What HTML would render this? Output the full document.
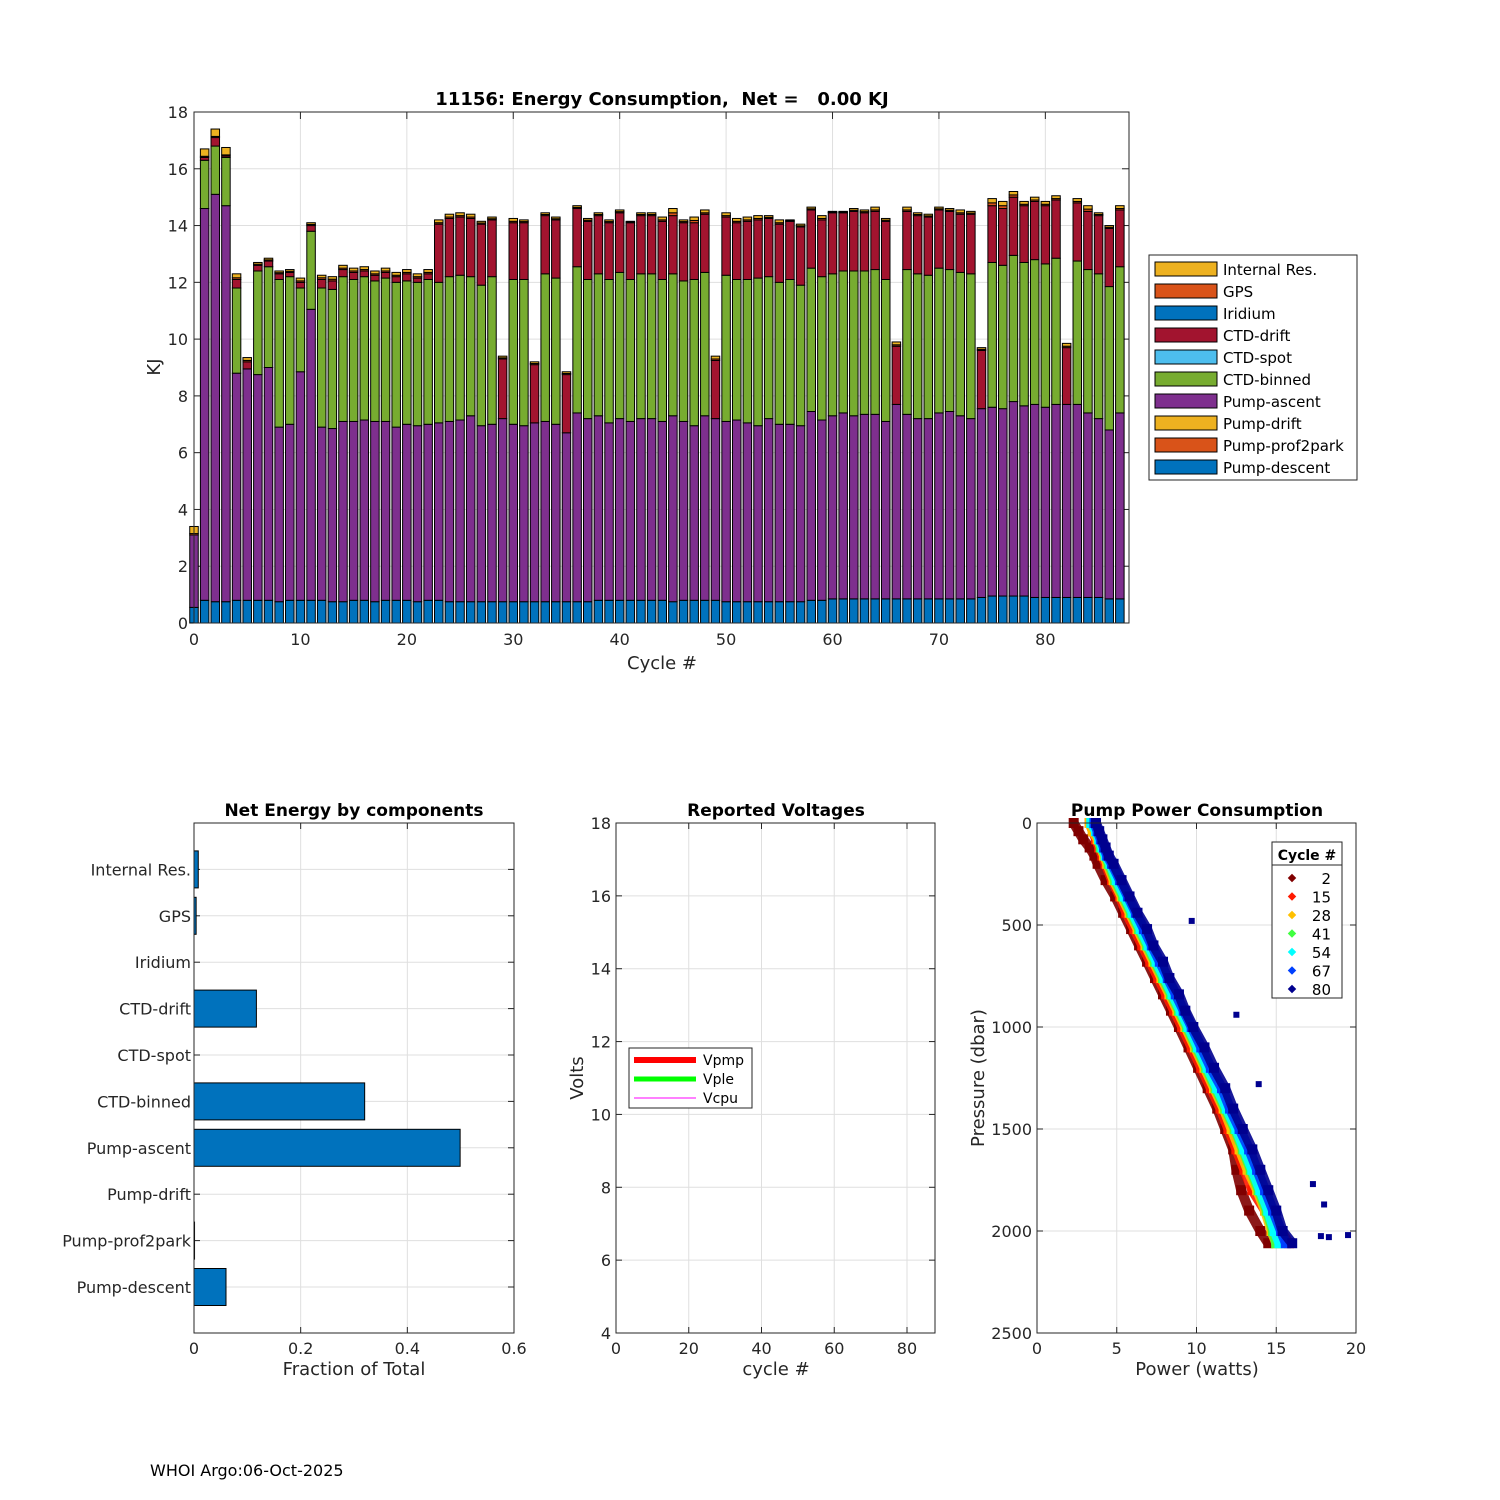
<!DOCTYPE html>
<html><head><meta charset="utf-8"><style>
body{margin:0;background:#fff;}
svg{display:block;font-family:"DejaVu Sans","Liberation Sans",sans-serif;}
text{white-space:pre;}
</style></head><body>
<svg id="s" width="1500" height="1500" viewBox="0 0 1500 1500"></svg>
<script>
// ---------- Top chart data (KJ per cycle) ----------
const cycles=[0,1,2,3,4,5,6,7,8,9,10,11,12,13,14,15,16,17,18,19,20,21,22,23,24,25,26,27,28,29,30,31,32,33,34,35,36,37,38,39,40,41,42,43,44,45,46,47,48,49,50,51,52,53,54,55,56,57,58,59,60,61,62,63,64,65,66,67,68,69,70,71,72,73,74,75,76,77,78,79,80,81,82,83,84,85,86,87];
const pumpDescent=[.55,.8,.75,.75,.8,.8,.8,.8,.75,.8,.8,.8,.8,.75,.75,.8,.8,.75,.8,.8,.8,.75,.8,.8,.75,.75,.75,.75,.75,.75,.75,.75,.75,.75,.75,.75,.75,.75,.8,.8,.8,.8,.8,.8,.8,.75,.8,.8,.8,.8,.75,.75,.75,.75,.75,.75,.75,.75,.8,.8,.85,.85,.85,.85,.85,.85,.85,.85,.85,.85,.85,.85,.85,.85,.9,.95,.95,.95,.95,.9,.9,.9,.9,.9,.9,.9,.85,.85];
const pumpAscent=[2.55,13.8,14.35,13.95,8.0,8.15,7.95,8.2,6.15,6.2,8.05,10.25,6.1,6.1,6.35,6.3,6.35,6.35,6.3,6.1,6.2,6.2,6.2,6.25,6.35,6.4,6.55,6.2,6.25,6.45,6.25,6.2,6.3,6.35,6.25,5.95,6.65,6.45,6.5,6.25,6.4,6.3,6.4,6.4,6.3,6.55,6.3,6.15,6.5,6.4,6.35,6.4,6.3,6.2,6.45,6.25,6.25,6.2,6.65,6.35,6.45,6.55,6.45,6.5,6.5,6.25,6.85,6.5,6.35,6.35,6.55,6.6,6.45,6.35,6.65,6.65,6.6,6.85,6.7,6.8,6.7,6.8,6.8,6.8,6.5,6.3,5.95,6.55];
const ctdBinned=[0,1.7,1.7,1.7,3.0,0,3.65,3.55,5.2,5.2,2.95,2.75,4.9,4.9,5.1,5.0,5.05,4.95,5.05,5.1,5.05,5.05,5.1,4.95,5.1,5.1,4.9,4.95,5.2,0,5.1,5.15,0,5.2,5.15,0,5.15,4.9,5.0,5.05,5.15,5.0,5.1,5.1,5.0,5.0,4.95,5.15,5.05,0,5.15,4.95,5.05,5.2,5.0,5.0,5.1,4.95,5.05,5.05,5.0,5.0,5.1,5.05,5.1,5.0,0,5.1,5.1,5.05,5.1,5.0,5.05,5.1,0,5.1,5.05,5.15,5.05,5.1,5.05,5.15,0,5.05,5.05,5.1,5.05,5.15];
const ctdDrift=[0,.1,.3,.05,.3,.25,.2,.2,.2,.15,.2,.2,.3,.3,.25,.25,.2,.2,.2,.2,.25,.15,.2,2.05,2.05,2.05,2.05,2.15,2.0,2.1,2.0,2.0,2.05,2.05,2.05,2.05,2.05,2.05,2.05,2.0,2.1,2.0,2.05,2.05,2.05,2.05,2.05,2.0,2.05,2.05,2.05,2.0,2.05,2.05,2.05,2.05,2.05,2.05,2.05,2.0,2.15,2.05,2.1,2.05,2.05,2.05,2.05,2.05,2.05,2.05,2.05,2.05,2.05,2.1,2.05,2.0,2.0,2.05,2.0,2.05,2.05,2.05,2.0,2.05,2.05,2.05,2.05,2.0];
const gps=[.05,.04,.04,.04,.06,.05,.04,.04,.04,.04,.05,.04,.06,.06,.05,.05,.05,.05,.05,.05,.05,.05,.05,.05,.05,.05,.05,.04,.04,.04,.05,.04,.04,.04,.04,.04,.04,.04,.04,.04,.04,.02,.04,.04,.05,.1,.04,.08,.05,.05,.05,.05,.05,.05,.04,.05,.02,.04,.04,.05,.02,.02,.04,.04,.05,.04,.05,.05,.04,.04,.04,.04,.05,.04,.04,.1,.1,.08,.05,.05,.05,.05,.05,.05,.08,.04,.04,.05];
const internalRes=[.25,.26,.26,.26,.14,.1,.06,.06,.06,.06,.1,.06,.09,.09,.1,.1,.1,.1,.1,.1,.1,.1,.1,.1,.1,.1,.1,.06,.06,.06,.1,.06,.06,.06,.06,.06,.06,.06,.06,.06,.06,.03,.06,.06,.1,.15,.06,.12,.1,.1,.1,.1,.1,.1,.06,.1,.03,.06,.06,.1,.03,.03,.06,.06,.1,.06,.1,.1,.06,.06,.06,.06,.1,.06,.06,.15,.15,.12,.1,.1,.1,.1,.1,.1,.12,.06,.06,.1];
const yTicksTop=[0,2,4,6,8,10,12,14,16,18];
const xTicksTop=[0,10,20,30,40,50,60,70,80];
// ---------- Net energy by components ----------
const compNames=["Internal Res.","GPS","Iridium","CTD-drift","CTD-spot","CTD-binned","Pump-ascent","Pump-drift","Pump-prof2park","Pump-descent"];
const compFrac=[0.008,0.004,0,0.117,0,0.32,0.499,0,0.001,0.06];
const xTicksFrac=[0,0.2,0.4,0.6];
// ---------- Voltages ----------
const vTicksY=[4,6,8,10,12,14,16,18];
const vTicksX=[0,20,40,60,80];
// ---------- Pump power ----------
const pumpCycles=[2,15,28,41,54,67,80];
const pressures=[0,40,80,120,160,200,280,360,440,520,600,680,760,840,920,1000,1100,1200,1300,1400,1500,1600,1700,1800,1900,2000,2060];
const power2=[2.3,2.6,2.9,3.3,3.6,3.8,4.3,4.9,5.4,5.9,6.4,6.9,7.4,7.9,8.4,8.9,9.5,10.1,10.7,11.3,11.8,12.3,12.5,12.8,13.3,14.0,14.5];
const power15=[3.3,3.5,3.7,3.9,4.1,4.3,4.7,5.2,5.6,6.1,6.6,7.1,7.6,8.1,8.6,9.1,9.7,10.3,10.9,11.5,12.0,12.5,13.0,13.5,14.3,15.3,15.8];
const power28=[3.3,3.5,3.8,4.0,4.2,4.4,4.8,5.3,5.8,6.3,6.8,7.3,7.8,8.3,8.8,9.3,9.9,10.5,11.1,11.7,12.2,12.7,13.2,13.8,14.3,14.7,15.0];
const power41=[3.5,3.7,3.9,4.0,4.3,4.5,4.9,5.4,5.9,6.4,6.9,7.4,7.9,8.4,8.9,9.4,10.0,10.6,11.2,11.8,12.4,12.9,13.4,13.9,14.4,14.8,15.0];
const power54=[3.4,3.7,3.9,4.1,4.3,4.6,5.0,5.5,6.0,6.5,7.0,7.5,8.0,8.5,9.0,9.5,10.1,10.7,11.3,11.9,12.5,13.0,13.5,14.0,14.5,14.9,15.2];
const power67=[3.6,3.8,4.0,4.2,4.4,4.7,5.2,5.7,6.2,6.7,7.2,7.7,8.2,8.7,9.2,9.7,10.3,10.9,11.6,12.1,12.7,13.3,13.8,14.3,14.8,15.3,15.6];
const power80=[3.7,3.9,4.1,4.3,4.5,4.8,5.3,5.8,6.3,6.9,7.3,7.9,8.3,8.9,9.3,9.8,10.5,11.1,11.8,12.3,12.9,13.5,14.0,14.5,15.0,15.4,16.0];
const outlierPres=[480,940,1280,1770,1870,2020,2025,2030];
const outlierPower=[9.7,12.5,13.9,17.3,18.0,19.5,17.8,18.3];
const pTicksY=[0,500,1000,1500,2000,2500];
const pTicksX=[0,5,10,15,20];

const S=document.getElementById('s');
const NS='http://www.w3.org/2000/svg';
function mk(tag,attrs,parent){const e=document.createElementNS(NS,tag);for(const k in attrs)e.setAttribute(k,attrs[k]);(parent||S).appendChild(e);return e;}
function txt(str,x,y,o,parent){const t=mk('text',Object.assign({x:x,y:y,'font-size':16,fill:'#262626'},o||{}),parent);t.textContent=str;return t;}

// ====== TOP CHART ======
const T={l:194,r:1129,t:112,b:623};
const tx=v=>T.l+(v)*(T.r-T.l)/87.86;
const ty=v=>T.b-v*(T.b-T.t)/18;
const gTop=mk('g',{});


yTicksTop.forEach(v=>{
  mk('line',{x1:T.l,x2:T.r,y1:ty(v),y2:ty(v),stroke:'#dfdfdf'},gTop);
  mk('line',{x1:T.l,x2:T.l+7,y1:ty(v),y2:ty(v),stroke:'#262626'},gTop);
  mk('line',{x1:T.r,x2:T.r-7,y1:ty(v),y2:ty(v),stroke:'#262626'},gTop);
  const t=txt(String(v),T.l-6,ty(v)+6,{'text-anchor':'end'},gTop);
  
  
});
xTicksTop.forEach(v=>{
  mk('line',{x1:tx(v),x2:tx(v),y1:T.t,y2:T.b,stroke:'#dfdfdf'},gTop);
  mk('line',{x1:tx(v),x2:tx(v),y1:T.b,y2:T.b-7,stroke:'#262626'},gTop);
  mk('line',{x1:tx(v),x2:tx(v),y1:T.t,y2:T.t+7,stroke:'#262626'},gTop);
  const t=txt(String(v),tx(v),T.b+22,{'text-anchor':'middle'},gTop);
  
  
});
const series=[
  {name:'Pump-descent',data:pumpDescent,c:'#0072BD'},
  {name:'Pump-ascent',data:pumpAscent,c:'#7E2F8E'},
  {name:'CTD-binned',data:ctdBinned,c:'#77AC30'},
  {name:'CTD-drift',data:ctdDrift,c:'#A2142F'},
  {name:'GPS',data:gps,c:'#D95319'},
  {name:'Internal Res.',data:internalRes,c:'#EDB120'}
];
const bw=0.8*(T.r-T.l)/87.86;
cycles.forEach((c,i)=>{
  let base=0;
  series.forEach(s=>{
    const v=s.data[i];
    if(v>0){
      const r=mk('rect',{x:tx(c)-bw/2,y:ty(base+v),width:bw,height:ty(base)-ty(base+v),fill:s.c,stroke:'#000','stroke-width':1},gTop);
      
      
    }
    base+=v;
  });
});
mk('rect',{x:T.l,y:T.t,width:T.r-T.l,height:T.b-T.t,fill:'none',stroke:'#262626'},gTop);
let tt=txt('11156: Energy Consumption,  Net =   0.00 KJ',662,105,{'text-anchor':'middle','font-weight':'bold','font-size':18,fill:'#000'},gTop);


tt=txt('Cycle #',662,669,{'text-anchor':'middle','font-size':18},gTop);


tt=txt('KJ',0,0,{'text-anchor':'middle','font-size':18,transform:'translate(160,367) rotate(-90)'},gTop);


// legend
const lg=mk('g',{},gTop);


mk('rect',{x:1149,y:255,width:208,height:225,fill:'#fff',stroke:'#262626'},lg);
const legItems=[['Internal Res.','#EDB120'],['GPS','#D95319'],['Iridium','#0072BD'],['CTD-drift','#A2142F'],['CTD-spot','#4DBEEE'],['CTD-binned','#77AC30'],['Pump-ascent','#7E2F8E'],['Pump-drift','#EDB120'],['Pump-prof2park','#D95319'],['Pump-descent','#0072BD']];
legItems.forEach((it,i)=>{
  const y=269+i*22;
  const e=mk('g',{},lg);
  
  
  mk('rect',{x:1155,y:y-7,width:62,height:14,fill:it[1],stroke:'#000'},e);
  txt(it[0],1223,y+6,{'font-size':15,fill:'#000'},e);
});

// ====== BOTTOM LEFT: components ======
const L={l:194,r:514,t:823,b:1333};
const lx=v=>L.l+v*(L.r-L.l)/0.6;
const gL=mk('g',{});


const catY=i=>L.t+46.4*(i+1);
xTicksFrac.forEach(v=>{
  mk('line',{x1:lx(v),x2:lx(v),y1:L.t,y2:L.b,stroke:'#dfdfdf'},gL);
  mk('line',{x1:lx(v),x2:lx(v),y1:L.b,y2:L.b-6,stroke:'#262626'},gL);
  mk('line',{x1:lx(v),x2:lx(v),y1:L.t,y2:L.t+6,stroke:'#262626'},gL);
  txt(String(v),lx(v),L.b+21,{'text-anchor':'middle'},gL);
});
compNames.forEach((n,i)=>{
  const y=catY(i);
  mk('line',{x1:L.l,x2:L.r,y1:y,y2:y,stroke:'#dfdfdf'},gL);
  mk('line',{x1:L.l,x2:L.l+6,y1:y,y2:y,stroke:'#262626'},gL);
  mk('line',{x1:L.r,x2:L.r-6,y1:y,y2:y,stroke:'#262626'},gL);
  txt(n,L.l-3,y+6,{'text-anchor':'end'},gL);
  if(compFrac[i]>0){
    const r=mk('rect',{x:L.l,y:y-18.5,width:lx(compFrac[i])-L.l,height:37,fill:'#0072BD',stroke:'#000'},gL);
    
    
  }
});
mk('rect',{x:L.l,y:L.t,width:L.r-L.l,height:L.b-L.t,fill:'none',stroke:'#262626'},gL);
txt('Net Energy by components',354,816,{'text-anchor':'middle','font-weight':'bold','font-size':17,fill:'#000'},gL);
txt('Fraction of Total',354,1375,{'text-anchor':'middle','font-size':18},gL);

// ====== BOTTOM MIDDLE: voltages ======
const M={l:616,r:935,t:823,b:1333};
const mx=v=>M.l+v*(M.r-M.l)/87.7;
const my=v=>M.b-(v-4)*(M.b-M.t)/14;
const gM=mk('g',{});


vTicksY.forEach(v=>{
  mk('line',{x1:M.l,x2:M.r,y1:my(v),y2:my(v),stroke:'#dfdfdf'},gM);
  mk('line',{x1:M.l,x2:M.l+6,y1:my(v),y2:my(v),stroke:'#262626'},gM);
  mk('line',{x1:M.r,x2:M.r-6,y1:my(v),y2:my(v),stroke:'#262626'},gM);
  txt(String(v),M.l-5,my(v)+6,{'text-anchor':'end'},gM);
});
vTicksX.forEach(v=>{
  mk('line',{x1:mx(v),x2:mx(v),y1:M.t,y2:M.b,stroke:'#dfdfdf'},gM);
  mk('line',{x1:mx(v),x2:mx(v),y1:M.b,y2:M.b-6,stroke:'#262626'},gM);
  mk('line',{x1:mx(v),x2:mx(v),y1:M.t,y2:M.t+6,stroke:'#262626'},gM);
  txt(String(v),mx(v),M.b+21,{'text-anchor':'middle'},gM);
});
mk('rect',{x:M.l,y:M.t,width:M.r-M.l,height:M.b-M.t,fill:'none',stroke:'#262626'},gM);
txt('Reported Voltages',776,816,{'text-anchor':'middle','font-weight':'bold','font-size':17,fill:'#000'},gM);
txt('cycle #',776,1375,{'text-anchor':'middle','font-size':18},gM);
txt('Volts',0,0,{'text-anchor':'middle','font-size':18,transform:'translate(583,1078) rotate(-90)'},gM);
const vl=mk('g',{},gM);


mk('rect',{x:629,y:1048,width:123,height:60,fill:'#fff',stroke:'#262626'},vl);
[['Vpmp','#ff0000',6,1060],['Vple','#00ff00',5,1079],['Vcpu','#ff00ff',1,1098]].forEach(a=>{
  mk('line',{x1:634,x2:696,y1:a[3],y2:a[3],stroke:a[1],'stroke-width':a[2]},vl);
  txt(a[0],703,a[3]+5,{'font-size':14,fill:'#000'},vl);
});

// ====== BOTTOM RIGHT: pump power ======
const P={l:1037,r:1356,t:823,b:1333};
const px=v=>P.l+v*(P.r-P.l)/20;
const py=v=>P.t+v*(P.b-P.t)/2500;
const gP=mk('g',{});


pTicksY.forEach(v=>{
  mk('line',{x1:P.l,x2:P.r,y1:py(v),y2:py(v),stroke:'#dfdfdf'},gP);
  mk('line',{x1:P.l,x2:P.l+6,y1:py(v),y2:py(v),stroke:'#262626'},gP);
  mk('line',{x1:P.r,x2:P.r-6,y1:py(v),y2:py(v),stroke:'#262626'},gP);
  txt(String(v),P.l-5,py(v)+6,{'text-anchor':'end'},gP);
});
pTicksX.forEach(v=>{
  mk('line',{x1:px(v),x2:px(v),y1:P.t,y2:P.b,stroke:'#dfdfdf'},gP);
  mk('line',{x1:px(v),x2:px(v),y1:P.b,y2:P.b-6,stroke:'#262626'},gP);
  mk('line',{x1:px(v),x2:px(v),y1:P.t,y2:P.t+6,stroke:'#262626'},gP);
  txt(String(v),px(v),P.b+21,{'text-anchor':'middle'},gP);
});
const pSeries=[[power2,'#800000'],[power15,'#ff1a00'],[power28,'#ffc000'],[power41,'#40ff40'],[power54,'#00ffff'],[power67,'#0040ff'],[power80,'#00008f']];
pSeries.forEach((s,k)=>{
  const g=mk('g',{},gP);
  
  
  const pts=pressures.map((p,i)=>px(s[0][i])+','+py(p)).join(' ');
  mk('polyline',{points:pts,fill:'none',stroke:s[1],'stroke-width':10,'stroke-linejoin':'round',opacity:0.9},g);
  pressures.forEach((p,i)=>{
    const m=mk('rect',{x:px(s[0][i])-5,y:py(p)-5,width:10,height:10,fill:s[1]},g);
    
    
  });
});
outlierPres.forEach((p,i)=>{
  const m=mk('rect',{x:px(outlierPower[i])-3,y:py(p)-3,width:6,height:6,fill:'#00008f'},gP);
  
  
});
mk('rect',{x:P.l,y:P.t,width:P.r-P.l,height:P.b-P.t,fill:'none',stroke:'#262626'},gP);
txt('Pump Power Consumption',1197,816,{'text-anchor':'middle','font-weight':'bold','font-size':17,fill:'#000'},gP);
txt('Power (watts)',1197,1375,{'text-anchor':'middle','font-size':18},gP);
txt('Pressure (dbar)',0,0,{'text-anchor':'middle','font-size':18,transform:'translate(984,1078) rotate(-90)'},gP);
const pl=mk('g',{},gP);


mk('rect',{x:1272,y:842,width:70,height:156,fill:'#fff',stroke:'#262626'},pl);
mk('line',{x1:1272,x2:1342,y1:865,y2:865,stroke:'#262626'},pl);
txt('Cycle #',1307,860,{'text-anchor':'middle','font-weight':'bold','font-size':14,fill:'#000'},pl);
pumpCycles.forEach((c,i)=>{
  const y=878+i*18.5;
  mk('rect',{x:1289,y:y-3,width:6,height:6,fill:pSeries[i][1],transform:'rotate(45 1292 '+y+')'},pl);
  txt(String(c),1331,y+6,{'text-anchor':'end','font-size':15,fill:'#000'},pl);
});

// footer
const f=txt('WHOI Argo:06-Oct-2025',150,1476,{'font-size':16,fill:'#000'});


</script>
</body></html>
